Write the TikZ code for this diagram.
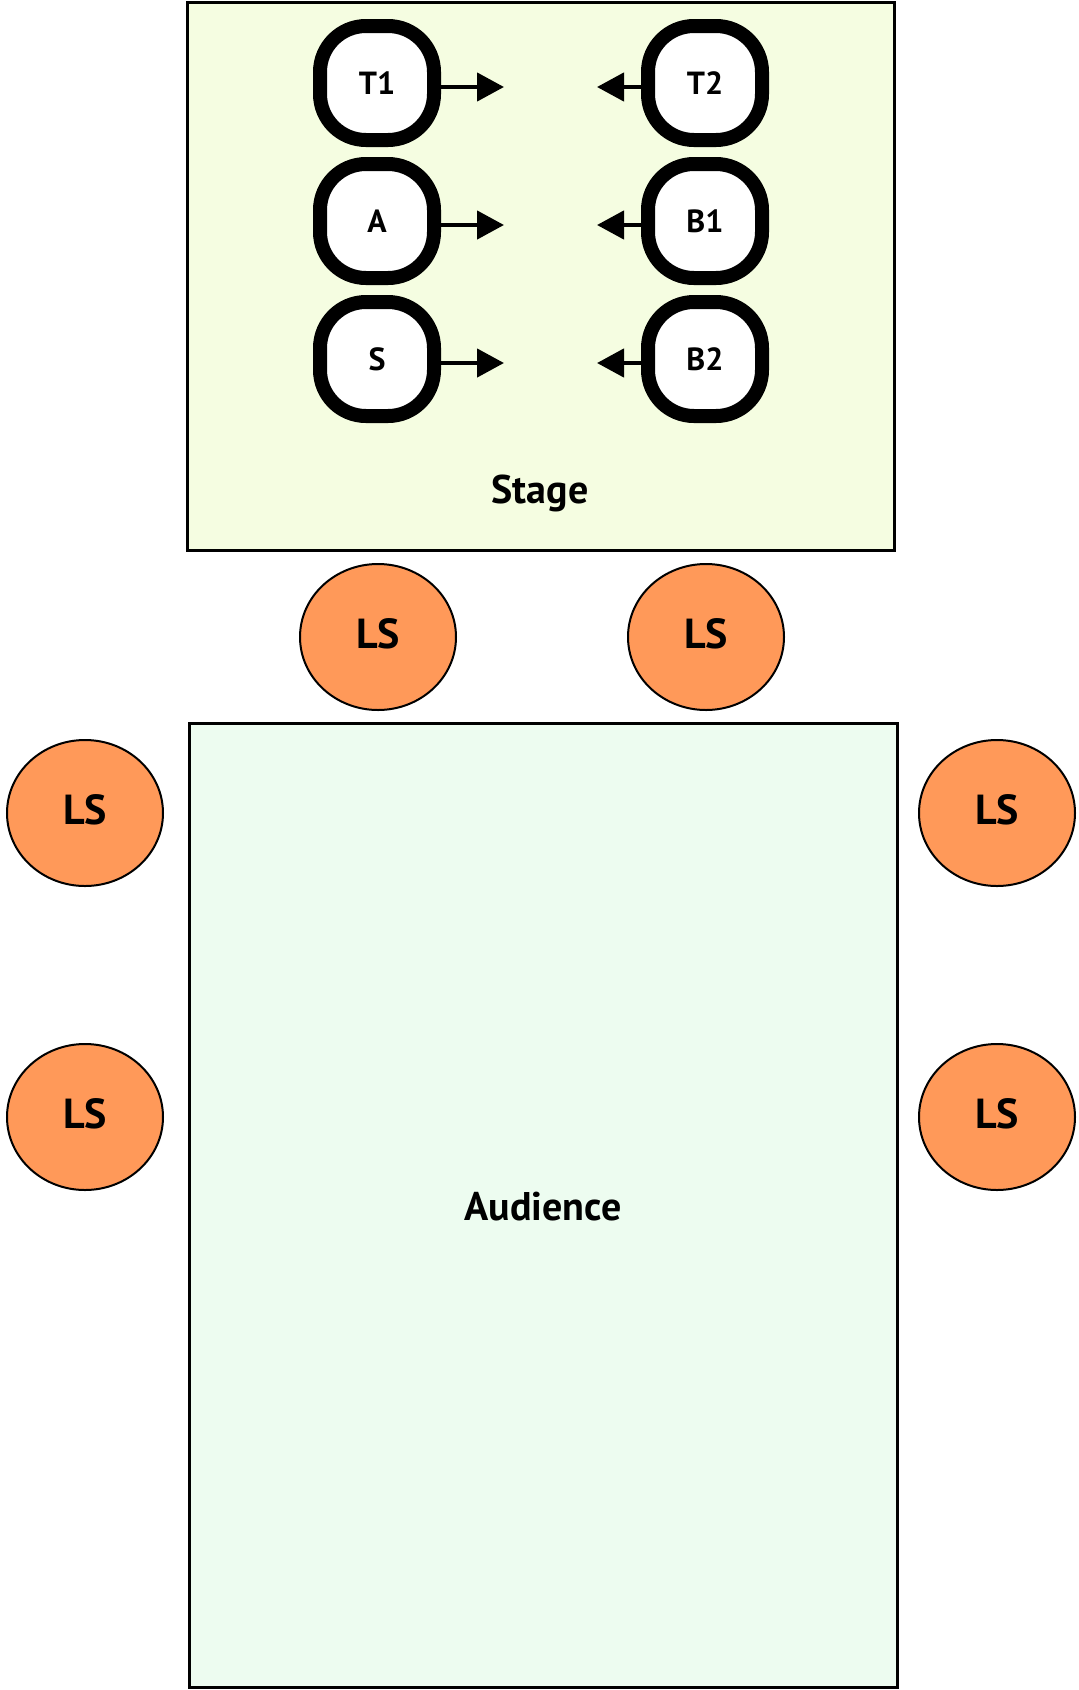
\documentclass[tikz,border=0pt]{standalone}
\usepackage{fontspec}
\setmainfont{PT Sans}
\usetikzlibrary{arrows.meta, shapes.geometric}
\definecolor{stagefill}{HTML}{F5FDE1}
\definecolor{audfill}{HTML}{EDFCF0}
\definecolor{lsfill}{HTML}{FF9959}
\tikzset{
  area/.style={draw=black, line width=3pt},
  ring/.style={draw=black, fill=white, line width=14pt},
  performer/.style={minimum width=128pt, minimum height=128pt, inner sep=0pt, outer sep=0pt,
    font=\bfseries\fontsize{32}{32}\selectfont},
  speaker/.style={ellipse, draw=black, fill=lsfill, line width=2pt,
    minimum width=156pt, minimum height=146pt, inner sep=0pt, text depth=8pt,
    font=\bfseries\fontsize{42}{42}\selectfont},
  facing/.style={line width=4.5pt, -{Triangle[length=27pt, width=28pt]}},
  arealabel/.style={font=\bfseries\fontsize{40}{40}\selectfont}
}
% rounded square of half side 57 and corner radius 46, centred at the given point
\def\rh{57}\def\rs{11}\def\rc{36.4}
\newcommand{\ringpath}[2]{%
  \draw[ring, shift={(#1,#2)}] (-\rh,-\rs)
    .. controls (-\rh,-\rc) and (-\rc,-\rh) .. (-\rs,-\rh) -- (\rs,-\rh)
    .. controls (\rc,-\rh) and (\rh,-\rc) .. (\rh,-\rs) -- (\rh,\rs)
    .. controls (\rh,\rc) and (\rc,\rh) .. (\rs,\rh) -- (-\rs,\rh)
    .. controls (-\rc,\rh) and (-\rh,\rc) .. (-\rh,\rs) -- cycle;}
\begin{document}
\begin{tikzpicture}[x=1pt, y=-1pt]
\useasboundingbox (0,0) rectangle (1079,1690);

% stage and audience areas
\draw[area, fill=stagefill] (187,2) rectangle (894,550);
\draw[area, fill=audfill] (189,723) rectangle (897,1687);
\node[arealabel] (stage) at (540,493) {Stage};
\node[arealabel] (audience) at (543,1207) {Audience};

% performers on stage: thick rounded ring, then the named node on top
\foreach \n/\x/\y in {T1/377/83, A/377/221, S/377/359, T2/705/83, B1/705/221, B2/705/359}{
  \ringpath{\x}{\y}
  \node[performer] (\n) at (\x,\y) {\n};
}

% facing directions
\coordinate (T1f) at (504,87);
\coordinate (Af)  at (504,225);
\coordinate (Sf)  at (504,363);
\coordinate (T2f) at (597,87);
\coordinate (B1f) at (597,225);
\coordinate (B2f) at (597,363);
\draw[facing] ([yshift=-4pt]T1.east) -- (T1f);
\draw[facing] ([yshift=-4pt]A.east) -- (Af);
\draw[facing] ([yshift=-4pt]S.east) -- (Sf);
\draw[facing] ([yshift=-4pt]T2.west) -- (T2f);
\draw[facing] ([yshift=-4pt]B1.west) -- (B1f);
\draw[facing] ([yshift=-4pt]B2.west) -- (B2f);

% loudspeakers
\node[speaker] (LS1) at (378,637) {LS};
\node[speaker] (LS2) at (706,637) {LS};
\node[speaker] (LS3) at (85,813) {LS};
\node[speaker] (LS4) at (85,1117) {LS};
\node[speaker] (LS5) at (997,813) {LS};
\node[speaker] (LS6) at (997,1117) {LS};
\end{tikzpicture}
\end{document}
